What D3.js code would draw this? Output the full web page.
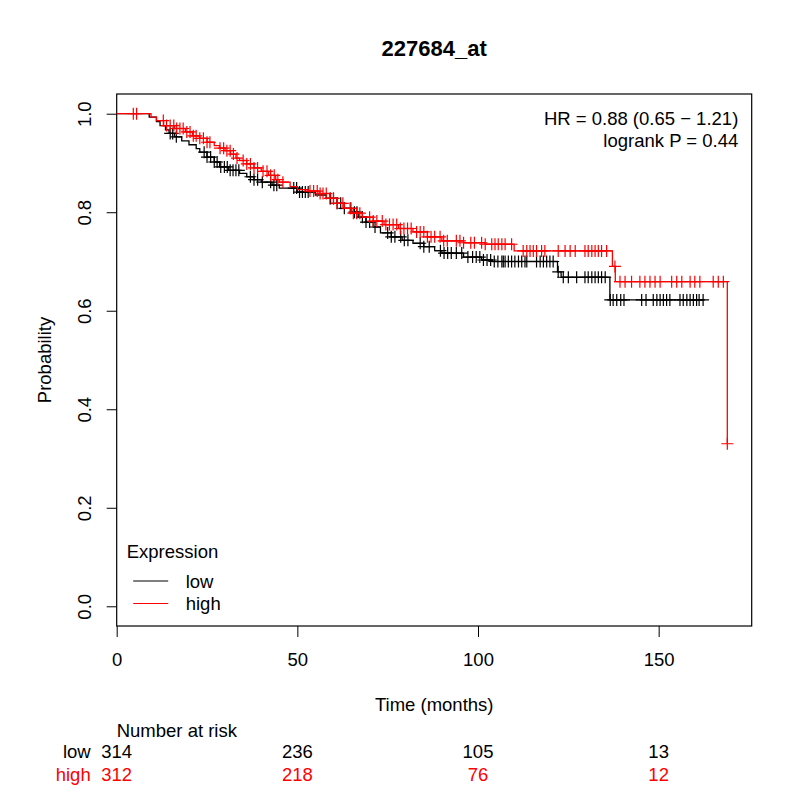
<!DOCTYPE html>
<html>
<head>
<meta charset="utf-8">
<script src="https://cdn.jsdelivr.net/npm/d3@7"></script>
<style>
  body { margin: 0; background: #fff; }
  svg { font-family: "Liberation Sans", Arial, sans-serif; }
  text { font-size: 18.5px; }
</style>
</head>
<body>
<svg id="chart" width="800" height="800"></svg>
<script>
// survival steps (time in months, probability after the drop)
const lowTimes = [0, 9, 11, 12, 13.5, 14.5, 16, 18, 20, 22, 23, 25, 27, 28.5, 31, 34, 36, 38, 40, 43,
  45, 50, 55, 58, 61, 63, 65, 67, 69, 71, 73, 76, 79, 82, 85, 88, 90, 96, 101, 104, 122, 123, 136.5]
const lowSurv = [1, .993, .984, .976, .967, .96, .953, .945, .937, .929, .922, .912, .902, .892, .885, .879, .872, .866, .861, .855,
  .849, .841, .835, .828, .818, .808, .8, .79, .78, .77, .758, .75, .743, .737, .73, .722, .717, .709, .703, .70, .679, .668, .622]
const lowCensor = [14.8, 15.5, 16.5, 24.2, 25, 26, 27, 27.8, 28.8, 29.8, 30.6, 31.4, 32.2, 33, 33.8,
  37, 38, 39, 40.3, 42.6, 43.5, 44.3, 49, 49.8, 50.6, 51.4, 52.2, 53, 59.2, 60, 61, 62, 63,
  64.8, 65.8, 66.5, 68, 69, 70, 71.5, 75, 76, 77, 78.6, 79.6, 80.6, 84, 85, 86.5,
  89.6, 90.6, 91.6, 92.6, 94, 95.5, 97.2, 98.5, 99.5, 100.5, 101.5, 102.5, 103.5, 104.5, 105.5,
  106.6, 107, 107.5, 108.4, 109.3, 110.2, 111.2, 112.1, 113, 113.5, 116.2, 117.2, 118.1, 119, 119.9, 120.8,
  122.2, 123.6, 125, 127.3, 129.6, 130.5, 131.5, 132.4, 133.3, 134.2, 135.2,
  136.6, 137.4, 138.4, 139.5, 140.4, 145.3, 146.5, 148.5, 149.5, 150.4, 151.3, 152.2, 153.1,
  155.9, 156.8, 157.8, 158.7, 159.6, 160.5, 161.2, 162.3]

const highTimes = [0, 9.5, 11, 13, 16, 19, 21, 23, 25, 27, 28.5, 30, 31.5, 33, 34, 36, 38, 40, 42, 44,
  45, 48, 50, 53, 56, 59, 61, 63, 65, 68, 71, 74, 78, 82, 86, 90, 96, 102, 110, 137.2, 138, 169]
const highSurv = [1, .993, .986, .976, .97, .963, .955, .95, .942, .935, .93, .925, .918, .91, .905, .898, .89, .883, .875, .866,
  .861, .852, .846, .843, .838, .828, .818, .808, .798, .79, .782, .775, .767, .76, .75, .742, .738, .735, .7215, .69, .659, .33]
const highCensor = [4.6, 5.5, 12.9, 13.8, 14.8, 15.8, 16.6, 17.5, 18.4, 19.4, 20.3, 21.2, 22, 23, 24, 25, 25.8,
  28.6, 29.6, 30.5, 31.4, 32.3, 33.3, 35, 36, 37, 38, 39, 40.5, 41.6, 42.6, 43.6, 44.6, 46,
  53.5, 54.5, 55.5, 56.3, 57.1, 58, 59, 60, 61, 62.6, 64.6, 65.5, 66.4, 67.3, 70, 71, 72,
  73.5, 74.5, 75.5, 76.5, 77.5, 78.5, 79.5, 80.5, 81.5, 83, 84, 85, 86, 87, 88, 89.5, 90.5, 91.5,
  94, 95, 96, 98, 99, 101, 102, 103.8, 104.7, 105.6, 106.6, 107.5, 109.3,
  112.5, 113.5, 114.4, 115.3, 116.2, 117.6, 118.5, 122.2, 124.1, 125.5, 126.9, 129.6, 130.5, 131.5,
  132.4, 133.3, 134.2, 135.6, 137.9, 139.3, 140.7, 142.5, 144.8, 146.2, 147.6, 149, 150.4,
  153.6, 155, 156.4, 158.7, 160, 161.4, 165.1, 166.5, 167.9, 169]

const xTicks = [0, 50, 100, 150]
const yTicks = [0, 0.2, 0.4, 0.6, 0.8, 1.0]
const riskTimes = [0, 50, 100, 150]
const lowRisk = [314, 236, 105, 13]
const highRisk = [312, 218, 76, 12]

const groups = [
  {name: 'low', times: lowTimes, surv: lowSurv, censor: lowCensor, risk: lowRisk, color: '#000'},
  {name: 'high', times: highTimes, surv: highSurv, censor: highCensor, risk: highRisk, color: 'red'}
]

const margin = {top: 94, right: 48.3, bottom: 174, left: 116.7}
const width = 800 - margin.left - margin.right
const height = 800 - margin.top - margin.bottom

const svg = d3.select('#chart')
const g = svg.append('g')
  .attr('transform', `translate(${margin.left},${margin.top})`)

const x = d3.scaleLinear().domain([0, 175.75]).range([0, width])
const y = d3.scaleLinear().domain([-0.04, 1.04]).range([height, 0])

// title
svg.append('text')
  .attr('x', margin.left + width / 2)
  .attr('y', 56)
  .attr('text-anchor', 'middle')
  .style('font-weight', 'bold')
  .style('font-size', '22px')
  .text('227684_at')

// axes, R style: ticks out, line only between end ticks
const xAxis = d3.axisBottom(x).tickValues(xTicks).tickSize(11).tickPadding(16).tickFormat(d3.format('d'))
const xAxisG = g.append('g')
  .attr('transform', `translate(0,${height})`)
  .call(xAxis)
xAxisG.select('.domain').remove()

const yAxis = d3.axisLeft(y).tickValues(yTicks).tickSize(10).tickFormat(d3.format('.1f'))
const yAxisG = g.append('g').call(yAxis)
yAxisG.select('.domain').remove()
yAxisG.selectAll('.tick text')
  .attr('x', null).attr('dy', null)
  .attr('text-anchor', 'middle')
  .attr('transform', 'translate(-26,0) rotate(-90)')

svg.selectAll('.tick text').style('font-size', '18.5px').attr('fill', '#000')
svg.selectAll('.tick line').attr('stroke', '#000')

// box
g.append('rect')
  .attr('width', width).attr('height', height)
  .attr('fill', 'none').attr('stroke', '#000').attr('stroke-width', 1.2)

// axis labels
g.append('text')
  .attr('x', width / 2).attr('y', height + 85)
  .attr('text-anchor', 'middle')
  .text('Time (months)')

g.append('text')
  .attr('transform', `translate(-66,${height / 2}) rotate(-90)`)
  .attr('text-anchor', 'middle')
  .text('Probability')

// curves
const line = d3.line()
  .x(d => x(d[0]))
  .y(d => y(d[1]))
  .curve(d3.curveStepAfter)

const survAt = (grp, t) => {
  let s = 1
  grp.times.forEach((tt, i) => { if (tt <= t) s = grp.surv[i] })
  return s
}

groups.forEach(grp => {
  const tEnd = d3.max(grp.times.concat(grp.censor))
  const pts = grp.times.map((t, i) => [t, grp.surv[i]])
  pts.push([tEnd, survAt(grp, tEnd)])

  const cg = g.append('g').attr('class', 'curve-' + grp.name)
  cg.append('path')
    .attr('d', line(pts))
    .attr('fill', 'none')
    .attr('stroke', grp.color)
    .attr('stroke-width', 1.3)

  cg.selectAll('path.censor')
    .data(grp.censor)
    .join('path')
      .attr('class', 'censor')
      .attr('d', t => {
        const cx = x(t), cy = y(survAt(grp, t)), r = 6
        return `M${cx - r},${cy}H${cx + r}M${cx},${cy - r}V${cy + r}`
      })
      .attr('stroke', grp.color)
      .attr('stroke-width', 1.2)
      .attr('fill', 'none')
})

// stats
const stats = g.append('g').attr('text-anchor', 'end')
stats.append('text').attr('x', width - 13.4).attr('y', 31).text('HR = 0.88 (0.65 \u2212 1.21)')
stats.append('text').attr('x', width - 13.4).attr('y', 52.5).text('logrank P = 0.44')

// legend (labels stay black, only the lines are coloured)
const legend = g.append('g').attr('transform', `translate(0,${height - 68})`)
legend.append('text').attr('x', 10).attr('y', 0).text('Expression')
groups.forEach((grp, i) => {
  legend.append('line')
    .attr('x1', 16.5).attr('x2', 51.5)
    .attr('y1', 23 + i * 22.5).attr('y2', 23 + i * 22.5)
    .attr('stroke', grp.color).attr('stroke-width', 1.2)
  legend.append('text')
    .attr('x', 69).attr('y', 29.5 + i * 22.5)
    .text(grp.name)
})

// number at risk table
g.append('text')
  .attr('x', 0).attr('y', height + 111)
  .text('Number at risk')

groups.forEach((grp, i) => {
  const rowY = height + 132 + i * 22.5
  g.append('text')
    .attr('x', -26).attr('y', rowY)
    .attr('text-anchor', 'end')
    .attr('fill', grp.color)
    .text(grp.name)
  g.selectAll('text.risk-' + grp.name)
    .data(grp.risk)
    .join('text')
      .attr('class', 'risk-' + grp.name)
      .attr('x', (d, j) => x(riskTimes[j]))
      .attr('y', rowY)
      .attr('text-anchor', 'middle')
      .attr('fill', grp.color)
      .text(d => d)
})
</script>
</body>
</html>
